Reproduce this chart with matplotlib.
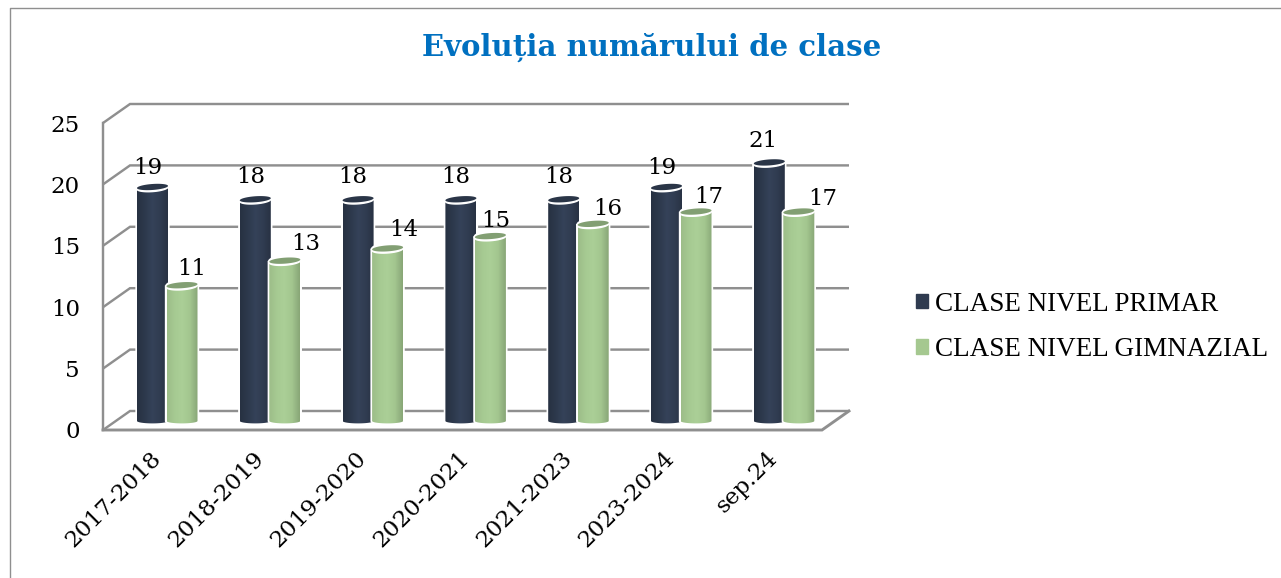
import numpy as np
import matplotlib
matplotlib.use("Agg")
import matplotlib.pyplot as plt
from matplotlib.lines import Line2D
from matplotlib.patches import Patch, Polygon
from matplotlib.colors import LinearSegmentedColormap
from matplotlib.transforms import ScaledTranslation

categories = ["2017-2018", "2018-2019", "2019-2020", "2020-2021", "2021-2023", "2023-2024", "sep.24"]
primar = [19, 18, 18, 18, 18, 19, 21]
gimnazial = [11, 13, 14, 15, 16, 17, 17]
series_names = ["CLASE NIVEL PRIMAR", "CLASE NIVEL GIMNAZIAL"]
y_ticks = [0, 5, 10, 15, 20, 25]
title = "Evoluția numărului de clase"

# label nudges in pixels relative to the top of each bar (style only)
nudge_primar = [(-5, 20), (-5, 23), (-5, 23), (-5, 23), (-5, 23), (-5, 20), (-6, 22)]
nudge_gimn = [(10, 17), (21, 17), (16, 19), (5, 16), (15, 16), (13, 15), (24, 13)]

W, H = 1281, 578
SERIF = "DejaVu Serif"
LEG = "Liberation Serif"
GRID = "#8f8f8f"

fig = plt.figure(figsize=(W / 100, H / 100), dpi=100, facecolor="white")
L, R, T, B = 103, 848, 104, 430
ax = fig.add_axes([L / W, (H - B) / H, (R - L) / W, (B - T) / H])
PX_X = 102.8
PX_Y = 12.28
X0 = 167.5
ax.set_xlim((L - X0) / PX_X, (R - X0) / PX_X)
ax.set_ylim(0, (B - T) / PX_Y)
ax.set_autoscale_on(False)
for s in ax.spines.values():
    s.set_visible(False)
ax.patch.set_visible(False)

dx = 27 / PX_X      # depth of the floor, horizontal
dy = 19 / PX_Y      # depth of the floor, vertical
left = (L - X0) / PX_X
right = (822 - X0) / PX_X
lw = 2.2 * 0.72 * 1.1
for v in y_ticks:
    ax.plot([left, left + dx, right + dx], [v, v + dy, v + dy], color=GRID, lw=lw, clip_on=False,
            solid_capstyle="butt", solid_joinstyle="miter", zorder=1)
ax.plot([left, left], [0, y_ticks[-1]], color=GRID, lw=lw, clip_on=False, zorder=1.1)
ax.plot([left, right, right + dx], [0, 0, dy], color=GRID, lw=lw * 1.2, clip_on=False,
        solid_joinstyle="miter", zorder=1.1)

cmap_dark = LinearSegmentedColormap.from_list("d", ["#273142", "#2d394c", "#354259", "#303c51", "#283243"])
cmap_green = LinearSegmentedColormap.from_list("g", ["#9dbd89", "#a6ca92", "#abcf97", "#a3c68f", "#88a677"])
grad = np.linspace(0, 1, 64)[None, :]
t = np.linspace(0, 2 * np.pi, 80)
base = (B - 421) / PX_Y
hw_px, hh_px, tilt = 15.5, 3.6, 0.07


def ellipse(xc, yc, hw=hw_px, hh=hh_px):
    xp = hw * np.cos(t)
    yp = hh * np.sin(t) + tilt * xp
    return np.column_stack([xc + xp / PX_X, yc + yp / PX_Y])


def cylinder(xc, v, cmap, top_col, z):
    top = base + v
    hw = hw_px / PX_X
    arc = np.linspace(np.pi, 2 * np.pi, 24)
    bot = np.column_stack([xc + hw * np.cos(arc), base + 2.4 * np.sin(arc) / PX_Y])
    tops = np.array([[xc + hw, top + tilt * hw_px / PX_Y], [xc - hw, top - tilt * hw_px / PX_Y]])
    outline = np.vstack([bot, tops])
    ax.add_patch(Polygon(outline, closed=True, fc="white", ec="white", lw=2.4, zorder=z))
    ax.add_patch(Polygon(ellipse(xc, top + 0.8 / PX_Y, hh=hh_px + 1.0), closed=True, fc="white",
                         ec="white", lw=2.0, zorder=z))
    im = ax.imshow(grad, extent=(xc - hw, xc + hw, base - 3 / PX_Y, top + 2 / PX_Y), cmap=cmap,
                   aspect="auto", interpolation="bilinear", zorder=z + 0.1)
    clip = Polygon(outline, closed=True, transform=ax.transData)
    im.set_clip_path(clip)
    ax.add_patch(Polygon(ellipse(xc, top - 0.3 / PX_Y), closed=True, fc="white", ec="white",
                         lw=1.0, zorder=z + 0.2))
    ax.add_patch(Polygon(ellipse(xc, top + 0.7 / PX_Y, hh=hh_px - 0.6), closed=True, fc=top_col,
                         ec="none", zorder=z + 0.3))


xs = np.arange(len(categories))
off_d, off_g = -15 / PX_X, 14.5 / PX_X
for i in xs:
    z = 2 + i
    cylinder(i + off_d, primar[i], cmap_dark, "#2a3547", z)
    cylinder(i + off_g, gimnazial[i], cmap_green, "#829f73", z + 0.5)
    for xc, v, n in ((i + off_d, primar[i], nudge_primar[i]), (i + off_g, gimnazial[i], nudge_gimn[i])):
        ax.annotate(str(v), (xc, base + v), xytext=(n[0] * 0.72, n[1] * 0.72), textcoords="offset points",
                    ha="center", va="center", family=SERIF, fontsize=16.5, color="black",
                    zorder=50, annotation_clip=False)

ax.set_yticks(y_ticks)
ax.set_yticklabels([str(v) for v in y_ticks], family=SERIF, fontsize=16.5, color="black")
ax.tick_params(axis="y", length=0, pad=(L - 80) * 0.72)
ax.set_xticks(xs)
ax.set_xticklabels(categories, rotation=45, ha="right", va="center", rotation_mode="anchor",
                   family=SERIF, fontsize=16.7, color="black")
ax.tick_params(axis="x", length=0, pad=22 * 0.72)
shift = ScaledTranslation(-10 / 100, -3 / 100, fig.dpi_scale_trans)
for lab in ax.get_xticklabels():
    lab.set_transform(lab.get_transform() + shift)

fig.text(651.5 / W, 1 - 47 / H, title, family=SERIF, fontweight="bold", fontsize=21, color="#0070C0",
         ha="center", va="center")

handles = [Patch(fc="#2f3b50", ec="#2f3b50"), Patch(fc="#a5c890", ec="#a5c890")]
fig.legend(handles, series_names, loc="center left", bbox_to_anchor=(916 / W, 1 - 327 / H), frameon=False,
           prop={"family": LEG, "size": 19.5}, handlelength=0.44, handleheight=0.44, handletextpad=0.26,
           labelspacing=0.76, borderpad=0, borderaxespad=0)

fig.add_artist(Line2D([9.5 / W, 9.5 / W, 1], [0, 1 - 7.5 / H, 1 - 7.5 / H], color=GRID, lw=1.0))

fig.savefig("out.png", dpi=100, facecolor="white")
